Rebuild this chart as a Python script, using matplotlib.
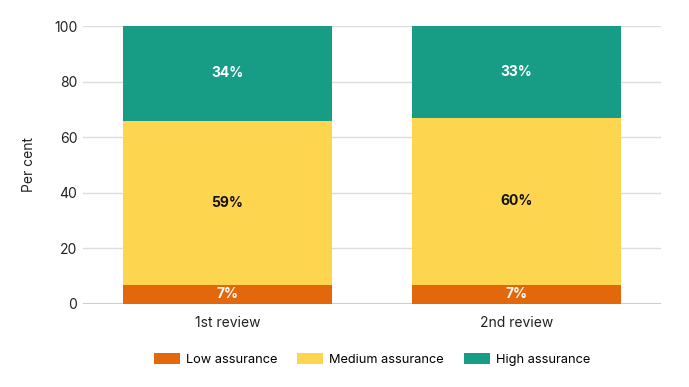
import matplotlib.pyplot as plt
import numpy as np

categories = ["1st review", "2nd review"]
low = [7, 7]
medium = [59, 60]
high = [34, 33]
series_names = ["Low assurance", "Medium assurance", "High assurance"]
colors = ["#E3680C", "#FED54F", "#179C86"]
label_colors = ["white", "#111111", "white"]

plt.rcParams['font.family'] = ['Inter', 'DejaVu Sans']

fig = plt.figure(figsize=(6.89, 3.87), dpi=100)
ax = fig.add_axes([0.1205, 0.2145, 0.8389, 0.7183])

x = np.arange(len(categories))
bottom = np.zeros(len(categories))
for vals, name, col, lcol in zip([low, medium, high], series_names, colors, label_colors):
    ax.bar(x, vals, width=0.72, bottom=bottom, color=col, label=name, zorder=2)
    for xi, b, v in zip(x, bottom, vals):
        ax.text(xi, b + v / 2, f"{v}%", ha="center", va="center",
                color=lcol, fontsize=10, fontweight="bold", zorder=3)
    bottom = bottom + np.array(vals)

ax.set_xlim(-0.5, 1.5)
ax.set_ylim(0, 100)
ax.set_yticks([0, 20, 40, 60, 80, 100])
ax.set_xticks(x)
ax.set_xticklabels(categories)
ax.grid(axis="y", color="#DDDDDD", linewidth=1, zorder=0)
ax.axhline(0, color="#CCCCCC", linewidth=1.5, zorder=1)
for s in ax.spines.values():
    s.set_visible(False)
ax.tick_params(axis="both", length=0, labelsize=10, colors="#222222")
ax.tick_params(axis="y", pad=4)
ax.tick_params(axis="x", pad=9)
ax.set_ylabel("Per cent", fontsize=10, color="#222222", labelpad=13)

ax.legend(loc="upper center", bbox_to_anchor=(0.5, -0.135), ncol=3, frameon=False,
          fontsize=9.2, handlelength=2.05, handleheight=0.95, columnspacing=1.55,
          handletextpad=0.48)

fig.savefig("out.png", dpi=100)
